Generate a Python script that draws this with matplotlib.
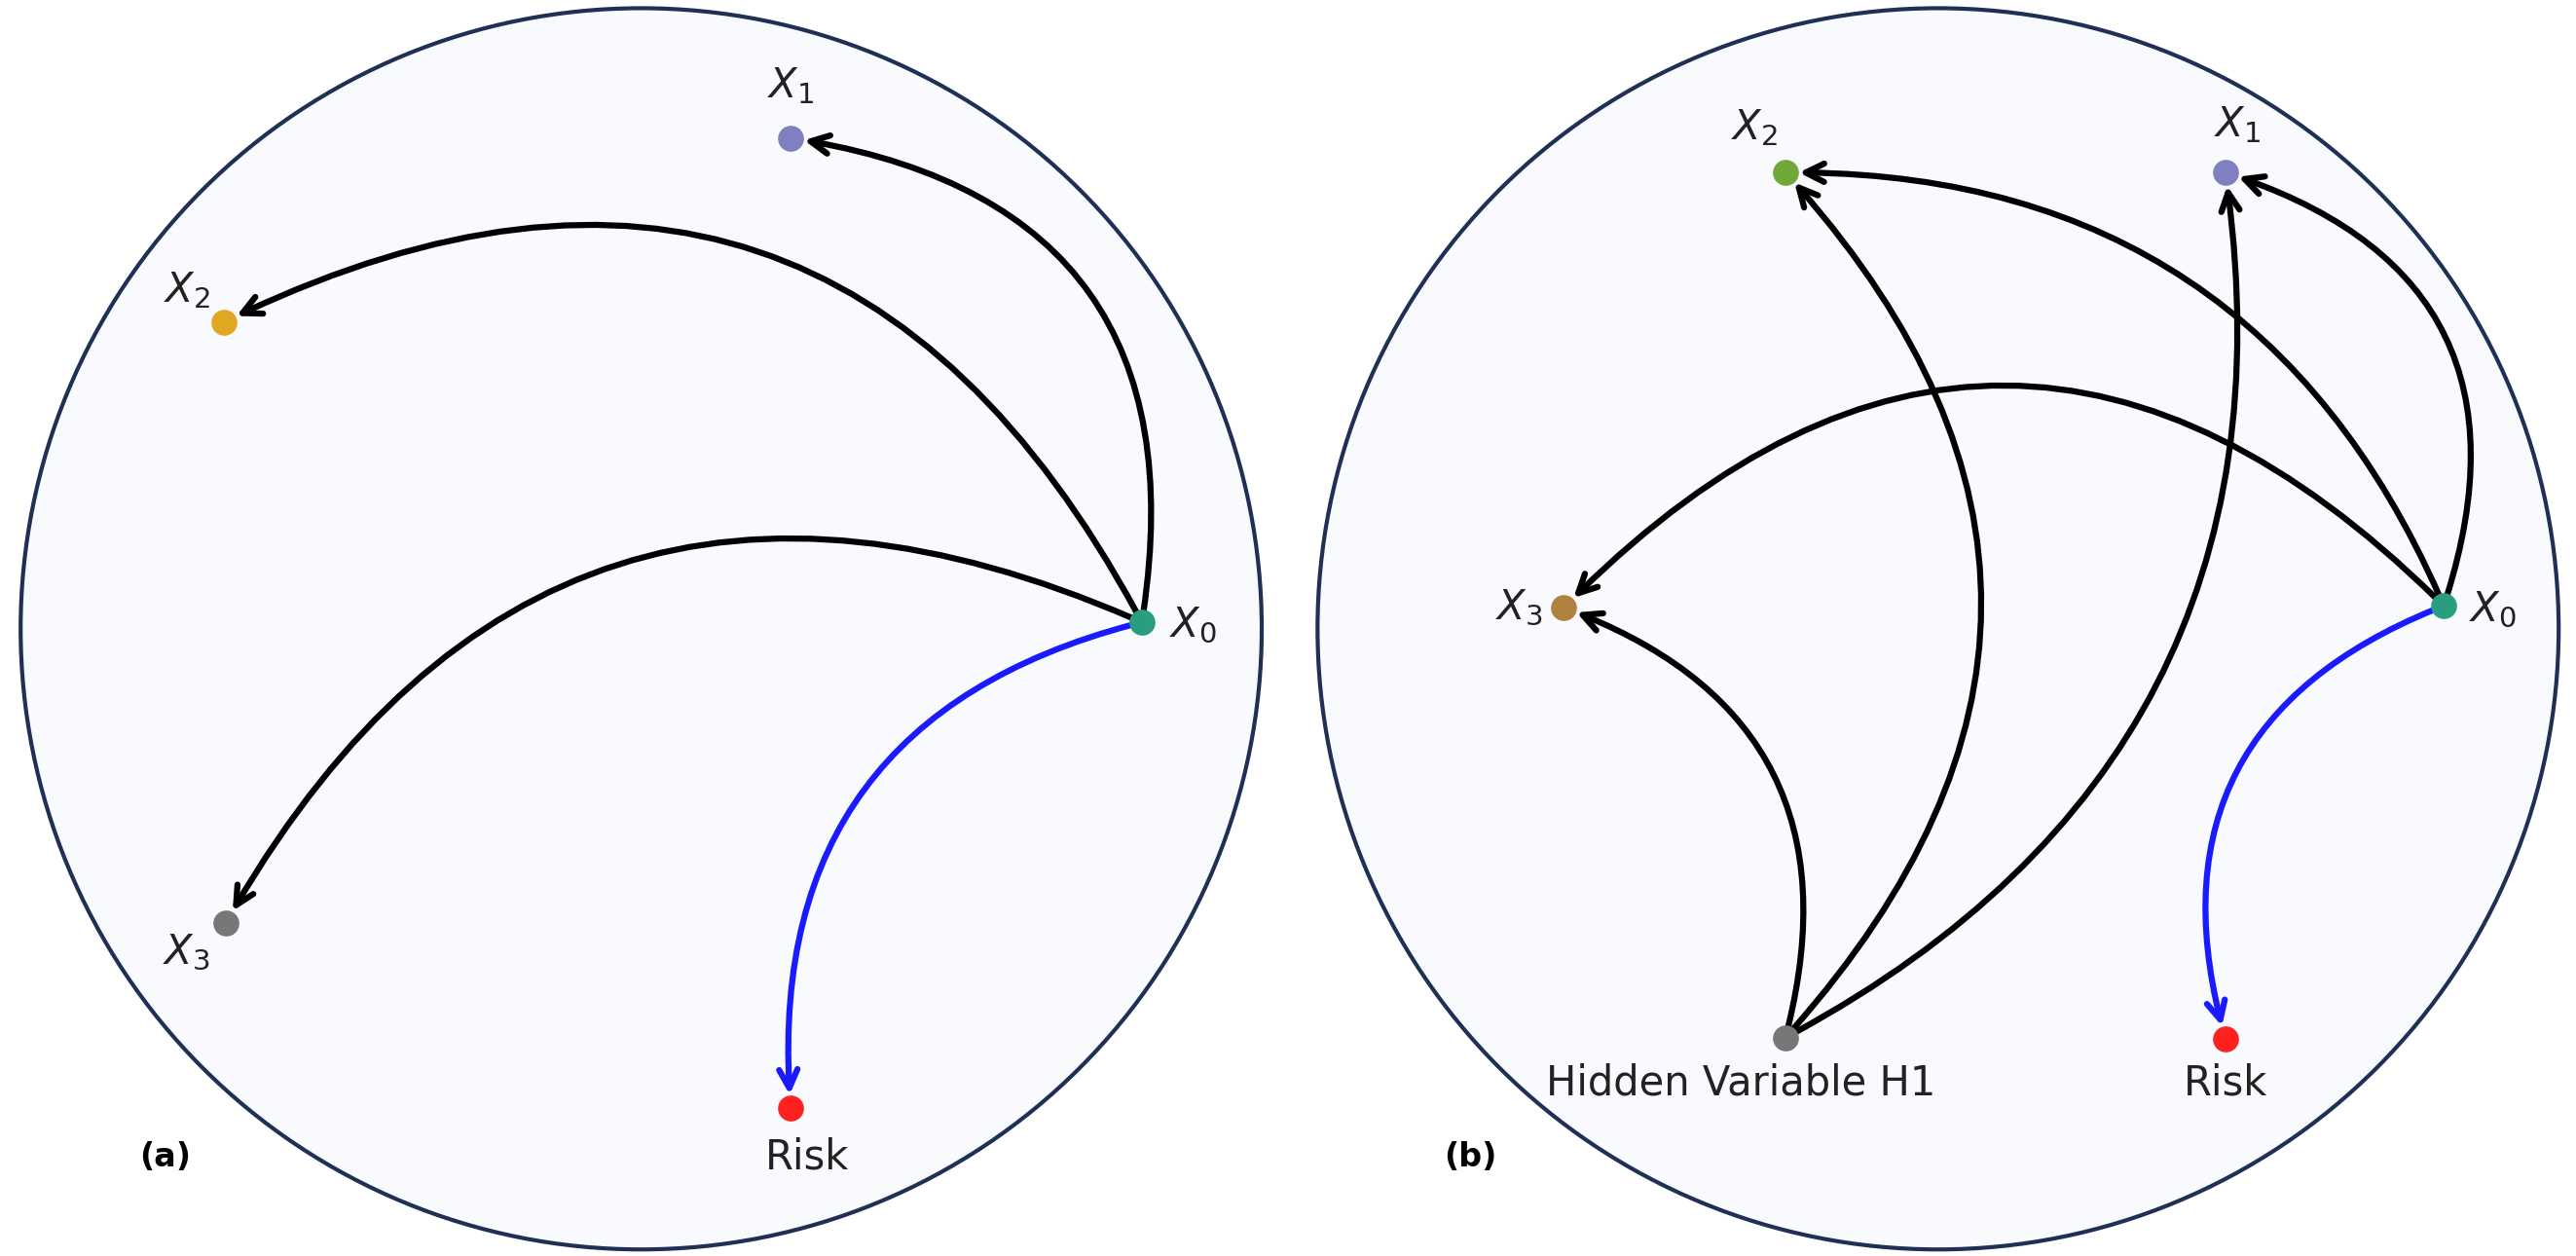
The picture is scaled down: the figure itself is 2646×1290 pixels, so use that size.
import matplotlib.pyplot as plt
from matplotlib.patches import Circle, FancyArrowPatch

# node positions (pixel-like layout units of the reference)
nodes_a = {"X0": (695, 379), "X1": (481, 84), "X2": (136, 196), "X3": (137, 562), "Risk": (481, 675)}
colors_a = {"X0": "#2a9d80", "X1": "#8080c0", "X2": "#e0a820", "X3": "#777777", "Risk": "#ff2020"}
labels_a = {"X0": ("$X_0$", 726, 381), "X1": ("$X_1$", 481, 52), "X2": ("$X_2$", 113, 177),
            "X3": ("$X_3$", 113, 580), "Risk": ("Risk", 491, 705)}
edges_a = [("X0", "X1", 0.5, "k"), ("X0", "X2", 0.48, "k"), ("X0", "X3", 0.45, "k"), ("X0", "Risk", 0.42, "#1a1aff")]

nodes_b = {"X0": (1488, 369), "X1": (1355, 105), "X2": (1087, 105), "X3": (952, 370),
           "H1": (1087, 632), "Risk": (1355, 633)}
colors_b = {"X0": "#2a9d80", "X1": "#8080c0", "X2": "#70a838", "X3": "#b08040", "H1": "#777777", "Risk": "#ff2020"}
labels_b = {"X0": ("$X_0$", 1518, 371), "X1": ("$X_1$", 1362, 76), "X2": ("$X_2$", 1068, 78),
            "X3": ("$X_3$", 925, 370), "H1": ("Hidden Variable H1", 1060, 660), "Risk": ("Risk", 1355, 660)}
edges_b = [("X0", "X1", 0.5, "k"), ("X0", "X2", 0.33, "k"), ("X0", "X3", 0.5, "k"), ("X0", "Risk", 0.45, "#1a1aff"),
           ("H1", "X3", 0.45, "k"), ("H1", "X2", 0.45, "k"), ("H1", "X1", 0.35, "k")]

fig = plt.figure(figsize=(26.46, 12.9), dpi=100)
ax = fig.add_axes([0, 0, 1, 1])
ax.set_xlim(0, 1568)
ax.set_ylim(765, 0)
ax.set_aspect("equal")
ax.axis("off")

for cx in (390, 1180):
    ax.add_patch(Circle((cx, 383), 378, facecolor="#f8fafd", edgecolor="#1f2f55", lw=3, zorder=0))

def draw(nodes, colors, labels, edges):
    for a, b, rad, c in edges:
        ax.add_patch(FancyArrowPatch(nodes[a], nodes[b], connectionstyle=f"arc3,rad={rad}",
                                     arrowstyle="->", mutation_scale=34, lw=4.5, color=c,
                                     shrinkA=8, shrinkB=10, zorder=1))
    for k, (x, y) in nodes.items():
        ax.scatter(x, y, s=330, color=colors[k], zorder=3)
    for k, (t, x, y) in labels.items():
        ax.text(x, y, t, fontsize=30, ha="center", va="center", color="#222222")

draw(nodes_a, colors_a, labels_a, edges_a)
draw(nodes_b, colors_b, labels_b, edges_b)
ax.text(100, 705, "(a)", fontsize=24, fontweight="bold", ha="center", va="center")
ax.text(895, 705, "(b)", fontsize=24, fontweight="bold", ha="center", va="center")

fig.savefig("out.png")
